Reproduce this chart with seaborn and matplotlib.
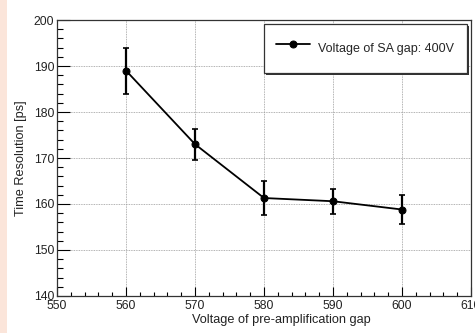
import matplotlib
matplotlib.use("Agg")
import matplotlib.pyplot as plt
import matplotlib.transforms as mtransforms
import seaborn as sns
import pandas as pd
from matplotlib.patches import Rectangle
from matplotlib.ticker import MultipleLocator

voltage = [560, 570, 580, 590, 600]
time_res = [189.0, 173.0, 161.3, 160.6, 158.8]
time_err = [5.0, 3.4, 3.6, 2.7, 3.2]
legend_label = "Voltage of SA gap: 400V"

sns.set_theme(style="white")
plt.rcParams['font.family'] = ['Liberation Sans', 'DejaVu Sans']

df = pd.DataFrame({"voltage": voltage, "time": time_res, "err": time_err})

fig = plt.figure(figsize=(4.75, 3.33), dpi=100)
fig.patch.set_facecolor("white")
ax = fig.add_axes([57/475, 1-296/333, 414/475, 276/333])

fig.patches.append(Rectangle((0, 0), 7/475, 1, transform=fig.transFigure,
                             facecolor="#fbe5da", edgecolor="none", zorder=-10))

ax.errorbar(df["voltage"], df["time"], yerr=df["err"], fmt="none",
            ecolor="black", elinewidth=1.6, capsize=2, capthick=1.2, zorder=3)
sns.lineplot(data=df, x="voltage", y="time", ax=ax, color="black",
             marker="o", markersize=5, markeredgecolor="black",
             linewidth=1.3, label=legend_label, zorder=4)

ax.set_xlim(550, 610)
ax.set_ylim(140, 200)
ax.xaxis.set_major_locator(MultipleLocator(10))
ax.xaxis.set_minor_locator(MultipleLocator(2))
ax.yaxis.set_major_locator(MultipleLocator(10))
ax.yaxis.set_minor_locator(MultipleLocator(2))
ax.tick_params(axis="x", which="major", direction="in", length=6.5, width=0.8,
               labelsize=8.8, pad=3, colors="black", bottom=True, top=False)
ax.tick_params(axis="x", which="minor", direction="in", length=3.2, width=0.8,
               bottom=True, top=False, colors="black")
ax.tick_params(axis="y", which="major", direction="in", length=9.4, width=0.8,
               labelsize=8.8, pad=2, colors="black", left=True, right=False)
ax.tick_params(axis="y", which="minor", direction="in", length=4.3, width=0.8,
               left=True, right=False, colors="black")

ax.grid(True, which="major", linestyle=(0, (1, 1)), color="#999999", linewidth=0.6)
ax.set_axisbelow(True)
for s in ax.spines.values():
    s.set_color("#333333")
    s.set_linewidth(0.9)

ax.set_xlabel("Voltage of pre-amplification gap", fontsize=9.2, color="#222222")
ax.xaxis.set_label_coords(0.543, -0.066)
ax.set_ylabel("Time Resolution [ps]", fontsize=9.2, color="#222222")
ax.yaxis.set_label_coords(-0.072, 0.5)

leg = ax.legend(loc="upper left", bbox_to_anchor=(0.5, 0.815, 0.49, 0.171),
                mode="expand", fontsize=9, frameon=True, fancybox=False,
                shadow=False, borderpad=0.95, handleheight=2.8,
                handlelength=2.7, handletextpad=0.7, borderaxespad=0)
leg.get_frame().set_edgecolor("#333333")
leg.get_frame().set_linewidth(0.9)
leg.get_frame().set_facecolor("white")
leg.get_frame().set_alpha(1)
leg.set_zorder(10)

fig.canvas.draw()
for lab in ax.get_xticklabels() + ax.get_yticklabels():
    lab.set_color("#222222")
# ROOT lifts the lowest y label slightly above the axis corner
ylabs = ax.get_yticklabels()
if ylabs:
    ylabs[0].set_transform(ylabs[0].get_transform() +
                           mtransforms.ScaledTranslation(0, 3/100, fig.dpi_scale_trans))

# thin ROOT-style shadow behind the legend box
bb = leg.get_frame().get_window_extent().transformed(fig.transFigure.inverted())
shadow = Rectangle((bb.x0 + 2/475, bb.y0 - 2/333), bb.width, bb.height,
                   transform=fig.transFigure, facecolor="#333333",
                   edgecolor="none", zorder=9, clip_on=False)
ax.add_artist(shadow)

fig.savefig("out.png", dpi=100)
